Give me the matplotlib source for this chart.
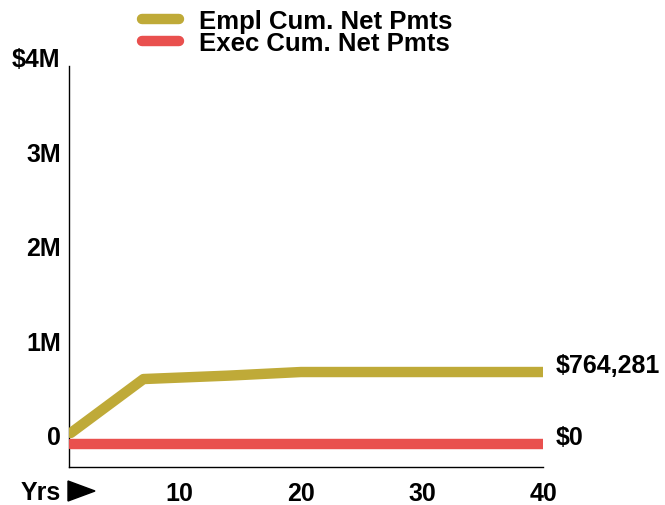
import numpy as np
import matplotlib
matplotlib.use("Agg")
import matplotlib.pyplot as plt
from matplotlib.lines import Line2D
from matplotlib.patches import Polygon

# data
empl_years = [1, 7, 14, 20, 40]
empl_values = [120000, 690000, 726000, 764281, 764281]
exec_years = [1, 40]
exec_values = [0, 0]

series_names = ["Empl Cum. Net Pmts", "Exec Cum. Net Pmts"]
series_colors = ["#BFAA38", "#E9504E"]

x_ticks = [10, 20, 30, 40]
y_ticks = [0, 1e6, 2e6, 3e6, 4e6]
y_tick_labels = ["0", "1M", "2M", "3M", "$4M"]

plt.rcParams["font.family"] = ["Liberation Sans", "DejaVu Sans"]
plt.rcParams["font.weight"] = "bold"

W, H = 665, 506
fig = plt.figure(figsize=(W / 100, H / 100), dpi=100)
ax = fig.add_axes([69 / W, 1 - 468 / H, (543 - 69) / W, (468 - 67) / H])

lw = 7.5
ax.plot(empl_years, empl_values, color=series_colors[0], lw=lw,
        solid_capstyle="round", solid_joinstyle="round", zorder=3)
ax.plot(exec_years, exec_values, color=series_colors[1], lw=lw,
        solid_capstyle="round", zorder=4)

ax.set_xlim(0.85, 40)
ax.set_ylim(-240000, 4e6)

for s in ["top", "right"]:
    ax.spines[s].set_visible(False)
for s in ["left", "bottom"]:
    ax.spines[s].set_linewidth(1.0)

fs = 18
ax.set_xticks(x_ticks)
ax.set_xticklabels([str(t) for t in x_ticks])
ax.set_yticks(y_ticks)
ax.set_yticklabels(y_tick_labels)
ax.tick_params(axis="both", length=0, labelsize=fs)
ax.tick_params(axis="x", pad=10)
ax.tick_params(axis="y", pad=6)
for t in ax.get_yticklabels():
    t.set_verticalalignment("baseline")
    t.set_fontweight("bold")
for t in ax.get_xticklabels():
    t.set_fontweight("bold")

# axis label for the years, with a pointer triangle
fig.text(21 / W, 1 - 493 / H, "Yrs", fontsize=fs, fontweight="bold",
         va="center", ha="left")
tri = Polygon([[68 / W, 1 - 482 / H], [95 / W, 1 - 492 / H], [68 / W, 1 - 502 / H]],
              closed=True, transform=fig.transFigure, color="black")
fig.add_artist(tri)

# end labels
ax.annotate("${:,.0f}".format(empl_values[-1]), xy=(empl_years[-1], empl_values[-1]),
            xytext=(9, 0), textcoords="offset points", fontsize=fs,
            fontweight="bold", va="baseline", ha="left", annotation_clip=False)
ax.annotate("${:,.0f}".format(exec_values[-1]), xy=(exec_years[-1], exec_values[-1]),
            xytext=(9, 0), textcoords="offset points", fontsize=fs,
            fontweight="bold", va="baseline", ha="left", annotation_clip=False)

handles = [Line2D([0], [0], color=c, lw=lw, solid_capstyle="round") for c in series_colors]
fig.legend(handles, series_names, loc="upper left", bbox_to_anchor=(124 / W, 1 + 8 / H),
           frameon=False, handlelength=1.45, handletextpad=0.75,
           labelspacing=-0.08, borderpad=0.2, prop={"weight": "bold", "size": 18.5})

fig.savefig("out.png", dpi=100)
